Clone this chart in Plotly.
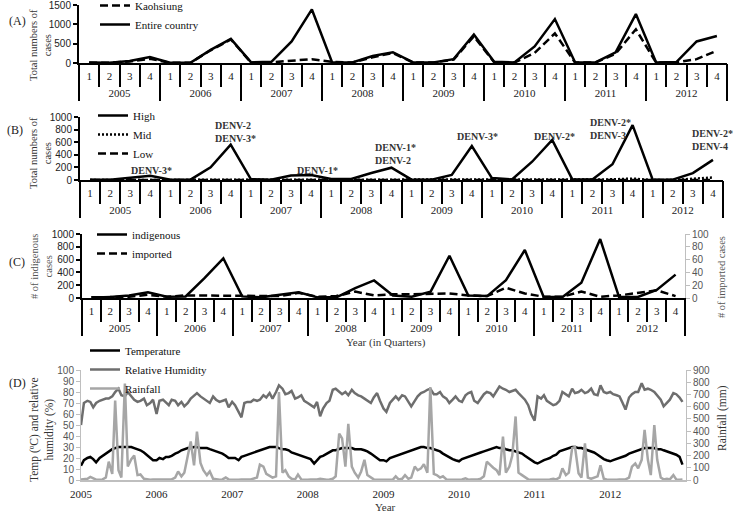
import plotly.graph_objects as go
import pandas as pd

W, H = 736, 513

# ---------------- data ----------------
years = ["2005", "2006", "2007", "2008", "2009", "2010", "2011", "2012"]
quarters = ["1", "2", "3", "4"]

# (A) quarterly dengue cases
kaohsiung = [5, 5, 40, 110, 5, 5, 330, 610, 10, 15, 60, 100, 30, 10, 150, 260,
             10, 10, 90, 690, 20, 10, 260, 770, 10, 10, 240, 875, 10, 15, 100, 320]
entire_country = [10, 5, 50, 155, 5, 5, 340, 625, 15, 30, 560, 1390, 15, 15, 180, 280,
                  15, 15, 100, 740, 30, 15, 430, 1140, 15, 15, 275, 1270, 15, 25, 560, 700]

# (B) cases by district risk level
high = [5, 5, 37, 69, 5, 5, 200, 560, 15, 5, 70, 80, 15, 15, 110, 195,
        5, 5, 80, 540, 30, 8, 290, 635, 10, 8, 250, 870, 5, 5, 110, 320]
mid = [0, 0, 0, 0, 0, 0, 0, 0, 0, 0, 0, 0, 0, 0, 0, 0,
       0, 0, 0, 0, 0, 0, 0, 0, 0, 0, 10, 22, 0, 0, 20, 40]
low = [0, 0, 0, 0, 0, 0, 0, 0, 0, 0, 0, 0, 0, 0, 0, 0,
       0, 0, 0, 0, 0, 0, 0, 0, 0, 0, 0, 0, 0, 0, 0, 0]
serotype_labels = ["DENV-3*", "DENV-2<br>DENV-3*", "DENV-1*", "DENV-1*<br>DENV-2",
                   "DENV-3*", "DENV-2*", "DENV-2*<br>DENV-3", "DENV-2*<br>DENV-4"]

# (C) indigenous vs imported cases
indigenous = [10, 15, 40, 90, 20, 25, 310, 620, 25, 10, 50, 90, 10, 10, 155, 275,
              40, 20, 100, 660, 40, 30, 280, 750, 15, 15, 240, 920, 15, 15, 125, 365]
imported = [1, 1, 2, 5, 2, 4, 4, 4, 4, 4, 3, 8, 2, 3, 10, 4,
            6, 6, 7, 7, 4, 3, 16, 7, 2, 2, 10, 2, 4, 8, 12, 3]

# (D) semi-monthly weather, 2005-2012
temperature = [
    13, 18, 20, 21, 19, 16, 20, 22, 24, 26, 28, 29, 30, 30, 30, 30, 30, 29, 28, 27, 25, 23, 20, 18,
    18, 20, 19, 21, 21, 22, 24, 25, 27, 28, 29, 29, 30, 30, 29, 29, 29, 28, 27, 26, 25, 24, 22, 20,
    20, 20, 18, 21, 22, 23, 24, 25, 26, 27, 28, 29, 30, 30, 30, 29, 28, 28, 27, 25, 24, 23, 22, 21,
    20, 19, 15, 18, 21, 22, 24, 25, 27, 27, 28, 29, 29, 29, 29, 28, 28, 28, 27, 26, 24, 22, 20, 18,
    18, 17, 20, 21, 22, 23, 24, 25, 26, 27, 28, 29, 30, 30, 29, 29, 28, 27, 26, 24, 22, 21, 19, 18,
    17, 19, 20, 21, 22, 23, 24, 25, 26, 27, 28, 29, 30, 29, 29, 28, 27, 27, 26, 25, 24, 22, 20, 18,
    16, 15, 17, 18, 19, 20, 22, 23, 26, 27, 28, 29, 30, 30, 29, 29, 28, 27, 26, 25, 23, 21, 19, 18,
    17, 18, 19, 20, 21, 22, 24, 25, 26, 27, 28, 29, 29, 29, 29, 28, 28, 27, 26, 25, 24, 23, 21, 14,
]
humidity = [
    50, 70, 72, 71, 66, 70, 72, 73, 74, 74, 76, 80, 83, 77, 76, 80, 76, 73, 71, 72, 74, 68, 70, 73,
    60, 72, 73, 70, 68, 73, 72, 68, 71, 67, 70, 74, 77, 79, 76, 74, 72, 70, 76, 73, 71, 72, 73, 66,
    71, 68, 62, 57, 70, 71, 71, 73, 72, 73, 77, 75, 79, 74, 80, 86, 83, 78, 79, 81, 74, 75, 77, 72,
    70, 68, 66, 71, 58, 65, 70, 72, 82, 83, 80, 78, 80, 77, 82, 79, 77, 76, 74, 72, 70, 75, 79, 72,
    65, 62, 70, 73, 76, 73, 77, 76, 71, 67, 72, 76, 79, 80, 82, 83, 78, 78, 80, 76, 74, 70, 73, 76,
    72, 71, 77, 79, 80, 72, 70, 74, 78, 80, 79, 76, 81, 85, 83, 82, 80, 81, 82, 79, 76, 73, 68, 60,
    54, 76, 74, 77, 72, 70, 68, 69, 72, 80, 78, 76, 83, 79, 80, 82, 79, 80, 83, 78, 77, 86, 80, 79,
    80, 78, 77, 76, 70, 64, 75, 78, 80, 80, 88, 82, 83, 82, 80, 77, 73, 67, 70, 73, 79, 78, 75, 71,
]
rainfall = [
    5, 5, 10, 25, 15, 3, 3, 5, 20, 150, 50, 650, 80, 20, 790, 110, 170, 200, 40, 45, 10, 5, 3, 5,
    5, 3, 5, 3, 5, 5, 20, 70, 30, 60, 200, 315, 120, 395, 140, 80, 40, 70, 10, 5, 3, 5, 20, 5,
    3, 5, 3, 5, 3, 5, 5, 10, 20, 125, 110, 50, 30, 20, 30, 720, 60, 80, 30, 10, 5, 45, 5, 3,
    3, 5, 3, 5, 10, 5, 3, 5, 10, 30, 380, 340, 110, 460, 110, 60, 20, 70, 165, 40, 20, 5, 3, 5,
    3, 3, 5, 3, 30, 5, 10, 40, 10, 20, 110, 80, 95, 130, 60, 760, 50, 40, 20, 30, 5, 3, 5, 3,
    3, 5, 14, 3, 5, 3, 5, 10, 30, 150, 120, 100, 80, 40, 355, 60, 110, 200, 520, 60, 40, 25, 5, 3,
    3, 5, 3, 5, 3, 5, 10, 5, 20, 95, 40, 60, 260, 270, 55, 20, 300, 20, 10, 20, 30, 120, 10, 5,
    3, 5, 3, 5, 3, 5, 20, 110, 135, 95, 165, 410, 165, 40, 450, 165, 20, 5, 10, 5, 40, 5, 3, 5,
]

# ---------------- helpers ----------------
qkeys = [f"{y}-Q{q}" for y in years for q in quarters]      # unique quarter categories
qtext = [q for _ in years for q in quarters]                 # shown quarter numbers
dates = pd.date_range("2005-01-01", periods=len(temperature), freq="SMS")

SERIF = "Liberation Serif"
SANS = "Liberation Sans"


def px_x(p):
    return p / W


def px_y(p):
    return 1 - p / H


fig = go.Figure()

# (A)
fig.add_trace(go.Scatter(x=qkeys, y=kaohsiung, mode="lines", name="Kaohsiung",
                         line=dict(color="black", width=2.5, dash="8px,4px"),
                         xaxis="x", yaxis="y", legend="legend"))
fig.add_trace(go.Scatter(x=qkeys, y=entire_country, mode="lines", name="Entire country",
                         line=dict(color="black", width=2.5),
                         xaxis="x", yaxis="y", legend="legend"))
# (B)
fig.add_trace(go.Scatter(x=qkeys, y=high, mode="lines", name="High",
                         line=dict(color="black", width=2.5),
                         xaxis="x2", yaxis="y2", legend="legend2"))
fig.add_trace(go.Scatter(x=qkeys, y=mid, mode="lines", name="Mid",
                         line=dict(color="black", width=2.5, dash="2px,2px"),
                         xaxis="x2", yaxis="y2", legend="legend2"))
fig.add_trace(go.Scatter(x=qkeys, y=low, mode="lines", name="Low",
                         line=dict(color="black", width=2.5, dash="8px,4px"),
                         xaxis="x2", yaxis="y2", legend="legend2"))
# (C)
fig.add_trace(go.Scatter(x=qkeys, y=indigenous, mode="lines", name="indigenous",
                         line=dict(color="black", width=2.5),
                         xaxis="x3", yaxis="y3", legend="legend3"))
fig.add_trace(go.Scatter(x=qkeys, y=imported, mode="lines", name="imported",
                         line=dict(color="black", width=2.5, dash="8px,4px"),
                         xaxis="x3", yaxis="y4", legend="legend3"))
# (D)
fig.add_trace(go.Scatter(x=dates, y=temperature, mode="lines", name="Temperature",
                         line=dict(color="black", width=2.5),
                         xaxis="x4", yaxis="y5", legend="legend4"))
fig.add_trace(go.Scatter(x=dates, y=humidity, mode="lines", name="Relative Humidity",
                         line=dict(color="#6e6e6e", width=2.5),
                         xaxis="x4", yaxis="y5", legend="legend4"))
fig.add_trace(go.Scatter(x=dates, y=rainfall, mode="lines", name="Rainfall",
                         line=dict(color="#a6a6a6", width=2.5),
                         xaxis="x4", yaxis="y6", legend="legend4"))

# empty carrier traces for the year-group axes of panels A-C
for xa, ya in (("x5", "y"), ("x6", "y2"), ("x7", "y3")):
    fig.add_trace(go.Scatter(x=years, y=[None] * len(years), mode="lines",
                             xaxis=xa, yaxis=ya, showlegend=False, hoverinfo="skip"))

q_axis = dict(type="category", categoryorder="array", categoryarray=qkeys,
              tickmode="array", tickvals=qkeys, ticktext=qtext, tickson="boundaries",
              showline=True, linecolor="black", linewidth=2,
              ticks="outside", ticklen=22, tickwidth=2, tickcolor="black",
              tickfont=dict(family=SERIF, size=11, color="#222"),
              range=[-0.5, len(qkeys) - 0.5], showgrid=False, zeroline=False,
              ticklabelstandoff=2, ticklabeloverflow="allow")
yr_axis = dict(type="category", categoryorder="array", categoryarray=years,
               tickson="boundaries", showline=False,
               ticks="outside", ticklen=37, tickwidth=2, tickcolor="black",
               tickfont=dict(family=SERIF, size=11, color="#222"),
               range=[-0.5, len(years) - 0.5], showgrid=False, zeroline=False,
               ticklabelstandoff=22, side="bottom", ticklabeloverflow="allow")

yl_axis = dict(showline=True, linecolor="black", linewidth=2, ticks="outside",
               ticklen=4, tickwidth=1.5, tickcolor="black", showgrid=False, zeroline=False,
               tickfont=dict(family=SANS, size=10, color="#222"), ticklabeloverflow="allow")
grey_axis = dict(showline=True, linecolor="#bfbfbf", linewidth=1, ticks="outside",
                 ticklen=4, tickwidth=1, tickcolor="#bfbfbf", showgrid=False, zeroline=False,
                 tickfont=dict(family=SANS, size=10, color="#555"), ticklabeloverflow="allow")

legend_base = dict(bgcolor="rgba(0,0,0,0)", borderwidth=0, xanchor="left", yanchor="top",
                   font=dict(family=SERIF, size=11, color="#111"), tracegroupgap=0,
                   orientation="v")

fig.update_layout(
    template="none",
    width=W, height=H,
    margin=dict(l=0, r=0, t=0, b=0, autoexpand=False),
    paper_bgcolor="white", plot_bgcolor="rgba(0,0,0,0)",
    xaxis=dict(q_axis, domain=[px_x(79), px_x(727)], anchor="y"),
    xaxis2=dict(q_axis, domain=[px_x(80), px_x(723)], anchor="y2"),
    xaxis3=dict(q_axis, domain=[px_x(82), px_x(685)], anchor="y3"),
    xaxis5=dict(yr_axis, overlaying="x", anchor="y"),
    xaxis6=dict(yr_axis, overlaying="x2", anchor="y2"),
    xaxis7=dict(yr_axis, overlaying="x3", anchor="y3"),
    xaxis4=dict(type="date", domain=[px_x(81), px_x(686)], anchor="y5",
                range=["2005-01-01", "2013-01-01"],
                tickvals=[f"{y}-01-01" for y in years], ticktext=years,
                showline=True, linecolor="#bfbfbf", linewidth=1.5, ticks="",
                showgrid=False, zeroline=False, ticklabeloverflow="allow",
                ticklabelstandoff=3,
                tickfont=dict(family=SERIF, size=11, color="#222")),
    yaxis=dict(yl_axis, domain=[px_y(63), px_y(5)], anchor="x", range=[0, 1505],
               tickvals=[0, 500, 1000, 1500]),
    yaxis2=dict(yl_axis, domain=[px_y(180), px_y(117)], anchor="x2", range=[0, 1000], dtick=200),
    yaxis3=dict(yl_axis, domain=[px_y(298), px_y(234)], anchor="x3", range=[0, 1000], dtick=200),
    yaxis4=dict(grey_axis, overlaying="y3", side="right", anchor="x3", range=[0, 100], dtick=20),
    yaxis5=dict(grey_axis, domain=[px_y(480), px_y(370)], anchor="x4", range=[0, 100], dtick=10),
    yaxis6=dict(grey_axis, overlaying="y5", side="right", anchor="x4", range=[0, 900], dtick=100),
    legend=dict(legend_base, x=px_x(95), y=px_y(-9)),
    legend2=dict(legend_base, x=px_x(93), y=px_y(101)),
    legend3=dict(legend_base, x=px_x(92), y=px_y(220)),
    legend4=dict(legend_base, x=px_x(85), y=px_y(336)),
    showlegend=True,
)


def ann(text, xp, yp, size=11, angle=0, xanchor="center", align="center", color="#222", bold=False):
    if bold:
        text = "<br>".join(f"<b>{t}</b>" for t in text.split("<br>"))
    return dict(text=text, x=px_x(xp), y=px_y(yp), xref="paper", yref="paper",
                showarrow=False, textangle=angle, xanchor=xanchor, yanchor="middle",
                align=align, font=dict(family=SERIF, size=size, color=color))


annotations = [
    ann("(A)", 17, 21, 12), ann("(B)", 15, 130, 12), ann("(C)", 17, 262, 12), ann("(D)", 17, 383, 12),
    ann("Total numbers of<br>cases", 40, 45, 10.5, angle=-90, color="#333"),
    ann("Total numbers of<br>cases", 40, 153, 10.5, angle=-90, color="#333"),
    ann("# of indigenous<br>cases", 41, 267, 10.5, angle=-90, color="#555"),
    ann("# of imported cases", 721, 277, 10.5, angle=-90, color="#555"),
    ann("Temp (ºC) and relative<br>humidity (%)", 42, 430, 11.5, angle=-90, color="#333"),
    ann("Rainfall (mm)", 722, 418, 11.5, angle=-90, color="#333"),
    ann("Year (in Quarters)", 386, 342, 11, color="#333"),
    ann("Year", 385, 507, 11, color="#333"),
]

# serotype labels above the yearly peaks in (B)
sero_pos = [(129, 170), (213, 132), (295, 170), (373, 154),
            (455, 136), (532, 136), (588, 129), (690, 140)]
for lab, (xp, yp) in zip(serotype_labels, sero_pos):
    annotations.append(ann(lab, xp, yp, 10, xanchor="left", align="left", color="#333", bold=True))

fig.update_layout(annotations=annotations)

fig.write_html("out.html", config={"displayModeBar": False},
               post_script="document.body.style.margin='0px';document.body.style.overflow='hidden';")
